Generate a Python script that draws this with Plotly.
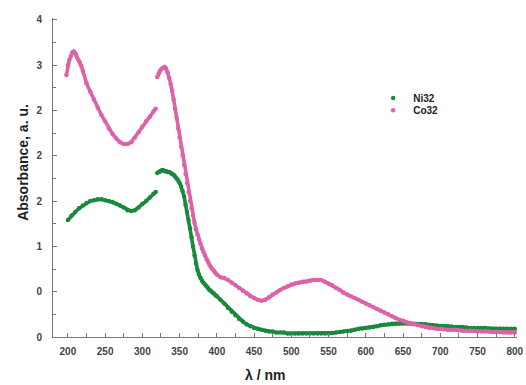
import plotly.graph_objects as go

# Ni32 (green)
ni_nm = [200, 205, 210, 215, 220, 225, 230, 235, 240, 245, 250, 255, 260, 265, 270, 275, 280, 285, 290, 295,
         300, 305, 310, 315, 318,
         320, 322, 324, 326, 328, 330, 332, 334, 336, 338, 340, 342, 344, 346, 348, 350, 352, 354, 356, 358,
         360, 362, 364, 366, 368, 370, 372, 374, 376, 378, 380, 382, 384, 386, 388, 390, 392, 394, 396, 398, 400,
         405, 410, 415, 420, 425, 430, 435, 440, 445, 450, 455, 460, 465, 470, 475, 480, 485, 490, 495, 500,
         505, 510, 515, 520, 525, 530, 535, 540, 545, 550, 555, 560, 565, 570, 575, 580, 585, 590, 595, 600,
         605, 610, 615, 620, 625, 630, 635, 640, 645, 650, 655, 660, 665, 670, 675, 680, 685, 690, 695, 700,
         705, 710, 715, 720, 725, 730, 735, 740, 745, 750, 755, 760, 765, 770, 775, 780, 785, 790, 795, 800]
ni_abs = [1.29, 1.34, 1.38, 1.42, 1.45, 1.48, 1.50, 1.51, 1.52, 1.52, 1.51, 1.50, 1.49, 1.47, 1.45, 1.43, 1.40, 1.39, 1.40, 1.43,
          1.47, 1.50, 1.54, 1.58, 1.60,
          1.81, 1.82, 1.83, 1.84, 1.84, 1.83, 1.83, 1.82, 1.82, 1.81, 1.80, 1.79, 1.77, 1.75, 1.73, 1.70, 1.66, 1.61, 1.55, 1.46,
          1.38, 1.29, 1.20, 1.10, 1.00, 0.90, 0.81, 0.74, 0.69, 0.65, 0.62, 0.60, 0.58, 0.56, 0.54, 0.52, 0.51, 0.49, 0.48, 0.46, 0.45,
          0.41, 0.37, 0.32, 0.28, 0.24, 0.20, 0.17, 0.14, 0.12, 0.10, 0.09, 0.08, 0.07, 0.06, 0.06, 0.05, 0.05, 0.05, 0.04, 0.04,
          0.04, 0.04, 0.04, 0.04, 0.04, 0.04, 0.04, 0.04, 0.04, 0.04, 0.045, 0.05, 0.055, 0.06, 0.065, 0.07, 0.08, 0.09, 0.095, 0.10,
          0.105, 0.11, 0.12, 0.13, 0.135, 0.14, 0.145, 0.15, 0.15, 0.15, 0.15, 0.15, 0.145, 0.14, 0.14, 0.14, 0.135, 0.13, 0.125, 0.12,
          0.12, 0.12, 0.115, 0.11, 0.11, 0.11, 0.105, 0.10, 0.10, 0.10, 0.10, 0.10, 0.095, 0.09, 0.09, 0.09, 0.09, 0.09, 0.09, 0.09]

# Co32 (pink)
co_nm = [198, 200, 202, 204, 206, 208, 210, 212, 214, 216, 218, 220, 225, 230, 235, 240, 245, 250, 255, 260, 265, 270, 275,
         280, 285, 290, 295, 300, 305, 310, 315, 318,
         320, 322, 324, 326, 328, 330, 332, 334, 336, 338, 340, 342, 344, 346, 348, 350, 352, 354, 356, 358,
         360, 362, 364, 366, 368, 370, 372, 374, 376, 378, 380, 382, 384, 386, 388, 390, 392, 394, 396, 398, 400,
         405, 410, 415, 420, 425, 430, 435, 440, 445, 450, 455, 460, 465, 470, 475, 480, 485, 490, 495, 500,
         505, 510, 515, 520, 525, 530, 535, 540, 545, 550, 555, 560, 565, 570, 575, 580, 585, 590, 595, 600,
         605, 610, 615, 620, 625, 630, 635, 640, 645, 650, 655, 660, 665, 670, 675, 680, 685, 690, 695, 700,
         705, 710, 715, 720, 725, 730, 735, 740, 745, 750, 755, 760, 765, 770, 775, 780, 785, 790, 795, 800]
co_abs = [2.89, 3.00, 3.06, 3.10, 3.14, 3.15, 3.13, 3.09, 3.06, 3.03, 2.99, 2.94, 2.80, 2.71, 2.62, 2.53, 2.45, 2.38, 2.30, 2.24, 2.19, 2.15, 2.13,
          2.13, 2.15, 2.20, 2.26, 2.32, 2.38, 2.43, 2.49, 2.52,
          2.87, 2.91, 2.94, 2.96, 2.97, 2.98, 2.96, 2.92, 2.86, 2.79, 2.72, 2.62, 2.52, 2.42, 2.30, 2.20, 2.10, 2.00, 1.90, 1.80,
          1.70, 1.60, 1.50, 1.42, 1.34, 1.26, 1.19, 1.13, 1.08, 1.03, 0.98, 0.94, 0.90, 0.86, 0.83, 0.80, 0.77, 0.75, 0.73, 0.71, 0.69,
          0.66, 0.65, 0.63, 0.60, 0.57, 0.54, 0.51, 0.48, 0.45, 0.43, 0.41, 0.40, 0.41, 0.44, 0.47, 0.49, 0.52, 0.54, 0.56, 0.58,
          0.59, 0.60, 0.61, 0.61, 0.62, 0.63, 0.63, 0.63, 0.61, 0.59, 0.57, 0.54, 0.52, 0.49, 0.47, 0.45, 0.43, 0.41, 0.39, 0.37,
          0.35, 0.33, 0.31, 0.29, 0.27, 0.25, 0.23, 0.21, 0.19, 0.18, 0.16, 0.15, 0.14, 0.13, 0.12, 0.11, 0.10, 0.10, 0.09, 0.09,
          0.085, 0.08, 0.08, 0.08, 0.075, 0.07, 0.07, 0.07, 0.065, 0.06, 0.06, 0.06, 0.06, 0.055, 0.055, 0.055, 0.05, 0.05, 0.05, 0.05]

x_tick_vals = [200, 250, 300, 350, 400, 450, 500, 550, 600, 650, 700, 750, 800]
y_tick_vals = [0, 0.5, 1.0, 1.5, 2.0, 2.5, 3.0, 3.5]
y_tick_text = ["0", "0", "1", "2", "2", "2", "3", "4"]
x_title = "λ / nm"
y_title = "Absorbance, a. u."

GREEN = "#19893d"
PINK = "#dd62a8"
FONT = "Liberation Sans"


def split_at_gap(xs, ys, gap_after=318):
    """Insert a None so the lamp-change discontinuity is not joined."""
    ox, oy = [], []
    for xv, yv in zip(xs, ys):
        if ox and ox[-1] is not None and ox[-1] <= gap_after < xv:
            ox.append(None)
            oy.append(None)
        ox.append(xv)
        oy.append(yv)
    return ox, oy


nx, ny = split_at_gap(ni_nm, ni_abs)
cx, cy = split_at_gap(co_nm, co_abs)

fig = go.Figure()
for xs, ys, name, col, lg in [(nx, ny, "Ni32", GREEN, "legend"), (cx, cy, "Co32", PINK, "legend2")]:
    fig.add_trace(go.Scatter(x=xs, y=ys, mode="lines", line=dict(color=col, width=3.6),
                             showlegend=False, hoverinfo="skip"))
    fig.add_trace(go.Scatter(x=xs, y=ys, mode="markers", name=f"<b>{name}</b>",
                             marker=dict(color=col, size=4.5, line=dict(width=0)), legend=lg))

axis_common = dict(showline=True, linecolor="#777777", linewidth=1, showgrid=False, zeroline=False,
                   ticks="inside", ticklen=4, tickcolor="#777777", tickwidth=1, automargin=False,
                   tickfont=dict(family=FONT, size=10, color="#444444"))

fig.update_layout(
    width=526, height=385,
    margin=dict(l=53, r=9, t=18, b=48),
    paper_bgcolor="white", plot_bgcolor="white",
    font=dict(family=FONT, color="#222222"),
    showlegend=True,
    xaxis=dict(range=[180, 803], tickvals=x_tick_vals, ticktext=[f"<b>{v}</b>" for v in x_tick_vals],
               ticklabelstandoff=5,
               minor=dict(dtick=25, ticks="inside", ticklen=4, tickcolor="#777777"),
               **axis_common),
    yaxis=dict(range=[0, 3.52], tickvals=y_tick_vals, ticktext=[f"<b>{t}</b>" for t in y_tick_text],
               ticklabelstandoff=8,
               minor=dict(dtick=0.25, ticks="inside", ticklen=3, tickcolor="#777777"),
               **axis_common),
    legend=dict(x=0.69, y=0.795, xanchor="left", yanchor="top", bgcolor="rgba(0,0,0,0)",
                font=dict(family=FONT, size=10, color="#222222"), visible=True),
    legend2=dict(x=0.69, y=0.756, xanchor="left", yanchor="top", bgcolor="rgba(0,0,0,0)",
                 font=dict(family=FONT, size=10, color="#222222"), visible=True),
    annotations=[
        dict(text=f"<b>{x_title}</b>", xref="paper", yref="paper", x=0.457, y=-0.118,
             xanchor="center", yanchor="middle", showarrow=False,
             font=dict(family=FONT, size=14, color="#222222")),
        dict(text=f"<b>{y_title}</b>", xref="paper", yref="paper", x=-0.0647, y=0.549,
             xanchor="center", yanchor="middle", showarrow=False, textangle=-90,
             font=dict(family=FONT, size=14, color="#222222")),
    ],
)

fig.write_html("out.html", post_script="document.body.style.margin='0';",
               config={"displayModeBar": False})
